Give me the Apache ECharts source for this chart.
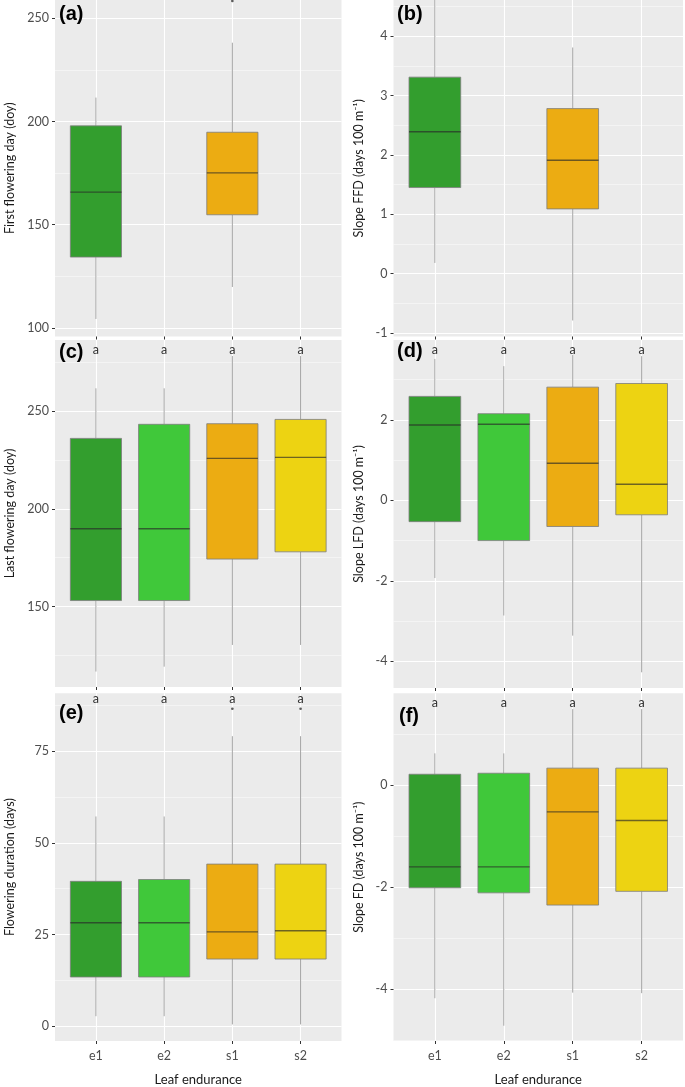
<!DOCTYPE html>
<html><head><meta charset="utf-8">
<script src="https://cdn.jsdelivr.net/npm/echarts@6/dist/echarts.min.js"></script>
<style>html,body{margin:0;padding:0;background:#fff}#c{width:685px;height:1087px}</style>
</head><body><div id="c"></div>
<script>
// ---------- data ----------
const categories = ['e1', 'e2', 's1', 's2'];
const boxColors = ['#339E2E', '#40C83A', '#ECAC12', '#EDD312'];
// each box: [min, Q1, median, Q3, max]; null = no data for that group
const firstFloweringDay = [[104.3, 134.3, 165.8, 197.9, 211.6], null, [119.8, 154.8, 175.1, 194.8, 238.2], null];
const firstFloweringOutliers = [[3, 258.4]];            // [group number, value]
const slopeFFD = [[0.18, 1.45, 2.39, 3.31, 4.9], null, [-0.79, 1.09, 1.91, 2.78, 3.81], null];
const slopeFFDOutliers = [];
const lastFloweringDay = [[116.8, 153.1, 189.8, 236.0, 261.6], [119.3, 153.1, 189.8, 243.2, 261.6], [130.4, 174.3, 225.8, 243.5, 278.1], [130.4, 178.0, 226.3, 245.7, 278.1]];
const lastFloweringOutliers = [];
const slopeLFD = [[-1.93, -0.53, 1.87, 2.58, 3.51], [-2.86, -1.0, 1.89, 2.15, 3.33], [-3.36, -0.65, 0.92, 2.81, 3.61], [-4.27, -0.36, 0.40, 2.90, 3.58]];
const slopeLFDOutliers = [];
const floweringDuration = [[2.7, 13.4, 28.2, 39.5, 57.2], [2.7, 13.4, 28.2, 40.0, 57.2], [0.46, 18.3, 25.7, 44.2, 79.1], [0.46, 18.3, 26.0, 44.2, 79.1]];
const floweringDurationOutliers = [[3, 86.6], [4, 86.6]];
const slopeFD = [[-4.18, -2.01, -1.60, 0.22, 0.63], [-4.72, -2.11, -1.60, 0.24, 0.63], [-4.07, -2.35, -0.52, 0.34, 1.50], [-4.08, -2.08, -0.69, 0.34, 1.50]];
const slopeFDOutliers = [];
const groupLetters = ['a', 'a', 'a', 'a'];
// tick labels
const ticksA = [100, 150, 200, 250], minorA = [125, 175, 225];
const ticksB = [-1, 0, 1, 2, 3, 4], minorB = [-0.5, 0.5, 1.5, 2.5, 3.5, 4.5];
const ticksC = [150, 200, 250], minorC = [125, 175, 225, 275];
const ticksD = [-4, -2, 0, 2], minorD = [-3, -1, 1, 3];
const ticksE = [0, 25, 50, 75], minorE = [12.5, 37.5, 62.5, 87.5];
const ticksF = [-4, -2, 0], minorF = [-5, -3, -1, 1];

// ---------- panels ----------
const panels = [
  { tag: '(a)', box: firstFloweringDay, out: firstFloweringOutliers, letters: null, yMin: 95.8, yMax: 258.9, major: ticksA, minor: minorA, yName: 'First flowering day (doy)' },
  { tag: '(b)', box: slopeFFD, out: slopeFFDOutliers, letters: null, yMin: -1.06, yMax: 4.61, major: ticksB, minor: minorB, yName: 'Slope FFD (days 100 m\u207B\u00B9)' },
  { tag: '(c)', box: lastFloweringDay, out: lastFloweringOutliers, letters: groupLetters, yMin: 108.9, yMax: 286.3, major: ticksC, minor: minorC, yName: 'Last flowering day (doy)' },
  { tag: '(d)', box: slopeLFD, out: slopeLFDOutliers, letters: groupLetters, yMin: -4.66, yMax: 3.98, major: ticksD, minor: minorD, yName: 'Slope LFD (days 100 m\u207B\u00B9)' },
  { tag: '(e)', box: floweringDuration, out: floweringDurationOutliers, letters: groupLetters, yMin: -4.06, yMax: 90.8, major: ticksE, minor: minorE, yName: 'Flowering duration (days)' },
  { tag: '(f)', box: slopeFD, out: slopeFDOutliers, letters: groupLetters, yMin: -5.02, yMax: 1.81, major: ticksF, minor: minorF, yName: 'Slope FD (days 100 m\u207B\u00B9)' }
];
const layout = [
  { left: 55, top: 0, width: 286.5, height: 336.5, tagX: 59, tagY: 4, letterY: 0, gap: 39 },
  { left: 393.5, top: 0, width: 289.5, height: 336.5, tagX: 397, tagY: 4, letterY: 0, gap: 28 },
  { left: 55, top: 340, width: 286.5, height: 347, tagX: 59, tagY: 342, letterY: 350, gap: 39 },
  { left: 393.5, top: 340, width: 289.5, height: 348, tagX: 397, tagY: 341, letterY: 350, gap: 28 },
  { left: 55, top: 693.3, width: 286.5, height: 350, tagX: 59, tagY: 703, letterY: 699, gap: 39 },
  { left: 393.5, top: 693.3, width: 289.5, height: 349, tagX: 399, tagY: 706, letterY: 703, gap: 28 }
];

const FONT = 'Lato';
const grid = [], xAxis = [], yAxis = [], series = [], graphic = [];

function renderBox(params, api) {
  const x = api.value(0);
  const c = (i) => api.coord([x, api.value(i)]);
  const pMin = c(1), pQ1 = c(2), pMed = c(3), pQ3 = c(4), pMax = c(5);
  const w = api.size([0.75, 0])[0];
  const cx = pMed[0];
  const wl = { stroke: '#A5A5A5', lineWidth: 1 };
  return {
    type: 'group', children: [
      { type: 'line', shape: { x1: cx, y1: pMax[1], x2: cx, y2: pQ3[1] }, style: wl },
      { type: 'line', shape: { x1: cx, y1: pQ1[1], x2: cx, y2: pMin[1] }, style: wl },
      { type: 'rect', shape: { x: cx - w / 2, y: pQ3[1], width: w, height: pQ1[1] - pQ3[1] },
        style: { fill: boxColors[x - 1], stroke: 'rgba(125,125,125,0.8)', lineWidth: 1 } },
      { type: 'line', shape: { x1: cx - w / 2, y1: pMed[1], x2: cx + w / 2, y2: pMed[1] },
        style: { stroke: 'rgba(40,40,40,0.65)', lineWidth: 1.4 } }
    ]
  };
}

panels.forEach((p, i) => {
  const L = layout[i];
  const bottomRow = i >= 4;
  grid.push({ left: L.left, top: L.top, width: L.width, height: L.height, show: true,
    backgroundColor: '#EBEBEB', borderWidth: 0, containLabel: false });
  xAxis.push({
    gridIndex: i, type: 'value', min: 0.4, max: 4.6, position: 'bottom',
    axisLine: { show: false, onZero: false },
    axisTick: { show: true, customValues: [1, 2, 3, 4], length: 3, lineStyle: { color: '#333', width: 1 } },
    axisLabel: { show: bottomRow, customValues: [1, 2, 3, 4], formatter: (v) => categories[Math.round(v) - 1] || '',
      color: '#4D4D4D', fontSize: 12.5, fontFamily: FONT, margin: 8 },
    splitLine: { show: true, lineStyle: { color: '#FFFFFF', width: 1.1 } },
    name: bottomRow ? 'Leaf endurance' : '', nameLocation: 'middle', nameGap: 32,
    nameTextStyle: { color: '#1a1a1a', fontSize: 13, fontFamily: FONT }
  });
  yAxis.push({
    gridIndex: i, type: 'value', min: p.yMin, max: p.yMax,
    axisLine: { show: false, onZero: false },
    axisTick: { show: true, customValues: p.major, length: 3, lineStyle: { color: '#333', width: 1 } },
    axisLabel: { show: true, customValues: p.major, color: '#4D4D4D', fontSize: 12.5, fontFamily: FONT, margin: 6 },
    splitLine: { show: true, lineStyle: { color: '#FFFFFF', width: 1.1 } },
    name: p.yName, nameLocation: 'middle', nameGap: L.gap,
    nameTextStyle: { color: '#1a1a1a', fontSize: 12.5, fontFamily: FONT }
  });
  yAxis.push({
    gridIndex: i, type: 'value', min: p.yMin, max: p.yMax, position: 'left',
    axisLine: { show: false, onZero: false },
    axisTick: { show: false, customValues: p.minor },
    axisLabel: { show: false, customValues: p.minor },
    splitLine: { show: true, lineStyle: { color: 'rgba(255,255,255,0.55)', width: 0.8 } }
  });
  const yMain = yAxis.length - 2;
  const boxData = [];
  p.box.forEach((b, k) => { if (b) boxData.push([k + 1].concat(b)); });
  series.push({
    type: 'custom', xAxisIndex: i, yAxisIndex: yMain, clip: true,
    data: boxData, encode: { x: 0, y: [1, 2, 3, 4, 5] }, renderItem: renderBox, silent: true
  });
  if (p.out.length) {
    series.push({
      type: 'scatter', xAxisIndex: i, yAxisIndex: yMain, data: p.out, symbolSize: 2.6,
      itemStyle: { color: '#333' }, silent: true, clip: true
    });
  }
  if (p.letters) {
    const letterVal = p.yMax - (L.letterY - L.top) / L.height * (p.yMax - p.yMin);
    series.push({
      type: 'custom', xAxisIndex: i, yAxisIndex: yMain, silent: true,
      data: p.letters.map((t, k) => [k + 1, letterVal]),
      renderItem: (params, api) => {
        const pt = api.coord([api.value(0), api.value(1)]);
        return { type: 'text', x: pt[0], y: pt[1],
          style: { text: p.letters[params.dataIndex], fill: '#333', font: '12.5px ' + FONT, align: 'center', verticalAlign: 'middle' } };
      }
    });
  }
  graphic.push({ type: 'text', left: L.tagX, top: L.tagY, z: 100,
    style: { text: p.tag, font: 'bold 20px "Liberation Sans", Arial', fill: '#000' } });
});

const chart = echarts.init(document.getElementById('c'), null, { renderer: 'canvas' });
chart.setOption({ animation: false, backgroundColor: '#FFFFFF', grid, xAxis, yAxis, series, graphic });
</script>
</body></html>
